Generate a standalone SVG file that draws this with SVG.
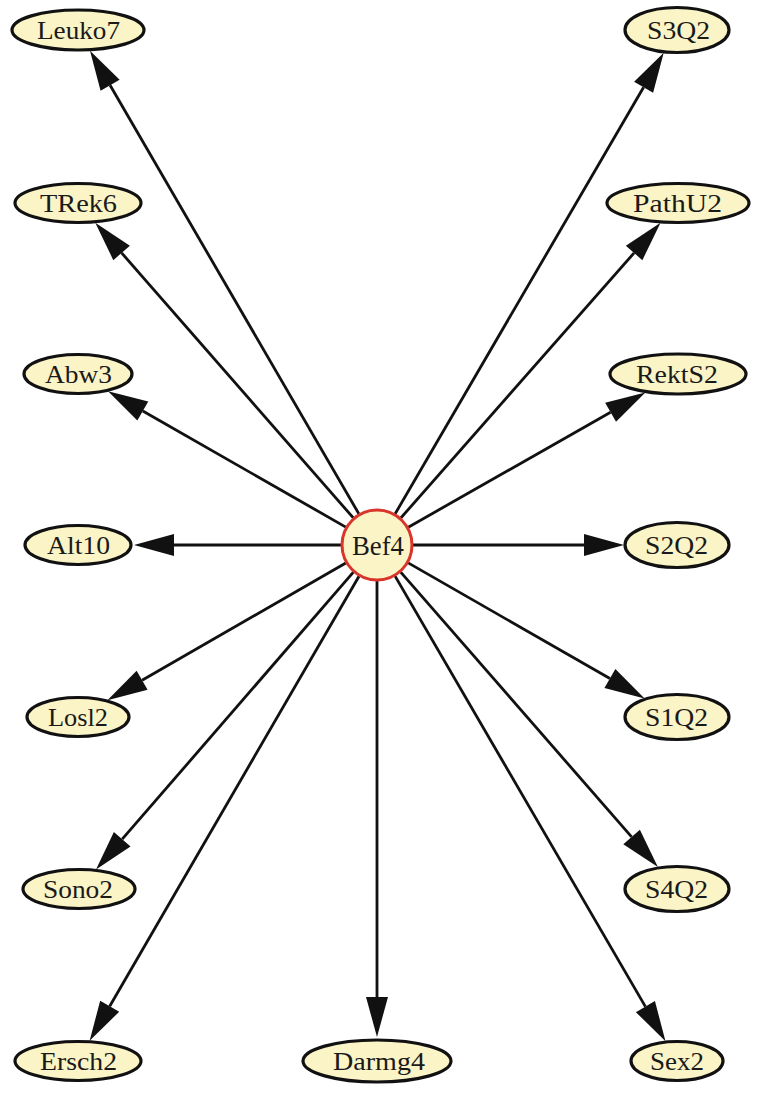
<svg xmlns="http://www.w3.org/2000/svg" width="758" height="1094" viewBox="0 0 758 1094">
<style>
.n ellipse{fill:#fbf4c6;stroke:#111;stroke-width:3.2}
.c circle{fill:#fbf4c6;stroke:#d9352b;stroke-width:3}
text{font-family:"Liberation Serif","Times New Roman",serif;font-size:25px;fill:#1a1a1a;text-anchor:middle}
.c text{font-size:27px}
#edges line{stroke:#111;stroke-width:2.8;marker-end:url(#ah)}
</style>
<defs>
<marker id="ah" markerUnits="userSpaceOnUse" markerWidth="40" markerHeight="22" refX="0" refY="11" orient="auto" overflow="visible">
<path d="M0,0 L40,11 L0,22 z" fill="#111"/>
</marker>
</defs>
<rect width="758" height="1094" fill="#fff"/>
<g id="edges">
<line x1="358.9" y1="513.9" x2="110.1" y2="85.3"/>
<line x1="353.3" y1="517.9" x2="121.6" y2="252.9"/>
<line x1="345.8" y1="527.1" x2="142.8" y2="411.0"/>
<line x1="341" y1="545" x2="174" y2="545"/>
<line x1="345.8" y1="563.0" x2="142.1" y2="680.2"/>
<line x1="353.4" y1="572.2" x2="122.2" y2="839.2"/>
<line x1="359.0" y1="576.2" x2="109.7" y2="1006.2"/>
<line x1="377" y1="581" x2="377" y2="997"/>
<line x1="395.1" y1="513.9" x2="643.6" y2="87.3"/>
<line x1="400.8" y1="518.0" x2="634.1" y2="252.9"/>
<line x1="408.3" y1="527.2" x2="610.6" y2="412.3"/>
<line x1="413" y1="545" x2="584" y2="545"/>
<line x1="408.2" y1="562.9" x2="609.9" y2="678.5"/>
<line x1="400.7" y1="572.1" x2="631.6" y2="836.9"/>
<line x1="395.1" y1="576.1" x2="645.4" y2="1006.6"/>
</g>
<g id="Bef4" class="c"><circle cx="377" cy="545" r="35"/><text x="378" y="554.5" textLength="52" lengthAdjust="spacingAndGlyphs">Bef4</text></g>
<g id="Leuko7" class="n"><ellipse cx="78" cy="30" rx="66" ry="20"/><text x="78.5" y="38.5" textLength="83" lengthAdjust="spacingAndGlyphs">Leuko7</text></g>
<g id="TRek6" class="n"><ellipse cx="78" cy="203" rx="63" ry="19.5"/><text x="78.5" y="211.5" textLength="77" lengthAdjust="spacingAndGlyphs">TRek6</text></g>
<g id="Abw3" class="n"><ellipse cx="78" cy="374" rx="54" ry="19.5"/><text x="78.5" y="382.5" textLength="67" lengthAdjust="spacingAndGlyphs">Abw3</text></g>
<g id="Alt10" class="n"><ellipse cx="78" cy="545" rx="53" ry="19.5"/><text x="78.5" y="553.5" textLength="63" lengthAdjust="spacingAndGlyphs">Alt10</text></g>
<g id="Losl2" class="n"><ellipse cx="78" cy="717" rx="51" ry="19.5"/><text x="78" y="725.5" textLength="60" lengthAdjust="spacingAndGlyphs">Losl2</text></g>
<g id="Sono2" class="n"><ellipse cx="79" cy="889" rx="56" ry="19.5"/><text x="78" y="897.5" textLength="70" lengthAdjust="spacingAndGlyphs">Sono2</text></g>
<g id="Ersch2" class="n"><ellipse cx="78" cy="1061" rx="63" ry="19.5"/><text x="78.5" y="1069.5" textLength="77" lengthAdjust="spacingAndGlyphs">Ersch2</text></g>
<g id="Darmg4" class="n"><ellipse cx="377" cy="1061" rx="74" ry="21"/><text x="379" y="1069.5" textLength="92" lengthAdjust="spacingAndGlyphs">Darmg4</text></g>
<g id="S3Q2" class="n"><ellipse cx="677" cy="30" rx="52" ry="22.5"/><text x="678.5" y="38.5" textLength="63" lengthAdjust="spacingAndGlyphs">S3Q2</text></g>
<g id="PathU2" class="n"><ellipse cx="678" cy="203" rx="71" ry="19.5"/><text x="677.5" y="211.5" textLength="89" lengthAdjust="spacingAndGlyphs">PathU2</text></g>
<g id="RektS2" class="n"><ellipse cx="678" cy="374" rx="68" ry="20"/><text x="677" y="382.5" textLength="82" lengthAdjust="spacingAndGlyphs">RektS2</text></g>
<g id="S2Q2" class="n"><ellipse cx="677" cy="545" rx="52" ry="22.5"/><text x="676.5" y="553.5" textLength="63" lengthAdjust="spacingAndGlyphs">S2Q2</text></g>
<g id="S1Q2" class="n"><ellipse cx="677" cy="717" rx="52" ry="22.5"/><text x="676.5" y="725.5" textLength="63" lengthAdjust="spacingAndGlyphs">S1Q2</text></g>
<g id="S4Q2" class="n"><ellipse cx="677" cy="889" rx="52" ry="22.5"/><text x="676.5" y="897.5" textLength="63" lengthAdjust="spacingAndGlyphs">S4Q2</text></g>
<g id="Sex2" class="n"><ellipse cx="677" cy="1061" rx="46" ry="19.5"/><text x="677" y="1069.5" textLength="54" lengthAdjust="spacingAndGlyphs">Sex2</text></g>
</svg>
